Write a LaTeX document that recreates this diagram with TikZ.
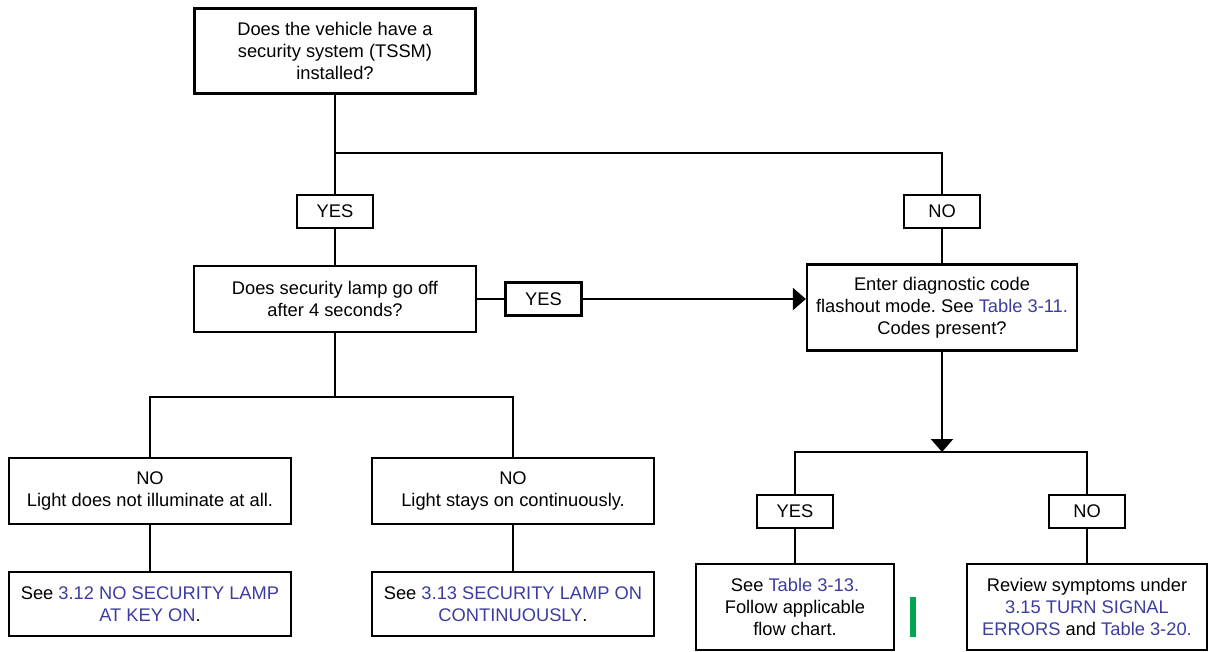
\documentclass[tikz,border=0pt]{standalone}
\usepackage{fontspec}
\setmainfont{Liberation Sans}
\usepackage{xcolor}
\usetikzlibrary{arrows.meta}
\definecolor{linkblue}{RGB}{60,60,160}
\definecolor{markgreen}{RGB}{0,166,81}
\newcommand{\lnk}[1]{\textcolor{linkblue}{#1}}
\frenchspacing

\begin{document}
\begin{tikzpicture}[-, x=1pt, y=-1pt, line width=2.3pt, font=\fontsize{18.3}{22}\selectfont,
  box/.style={draw, align=center, inner sep=0pt},
  tag/.style={box, minimum width=76pt, minimum height=33pt},
  wide box/.style={box, minimum width=282pt},
  arr/.style={-{Triangle[width=22pt,length=13pt]}}]
\useasboundingbox (0,0) rectangle (1217,652);
\node[box, minimum width=281pt, minimum height=85pt] (q1) at (335,51) {Does the vehicle have a\\security system (TSSM)\\installed?};
\node[tag] (yes1) at (335,211.5) {YES};
\node[tag] (no1) at (942,211.5) {NO};
\node[box, minimum width=282pt, minimum height=66pt] (q2) at (335,299) {Does security lamp go off\\after 4 seconds?};
\node[tag] (yes2) at (543.5,299) {YES};
\node[box, minimum width=270pt, minimum height=86pt] (q3) at (942,307.5) {Enter diagnostic code\\flashout mode. See \lnk{Table 3-11.}\\Codes present?};
\node[wide box, minimum height=66pt] (no2) at (150,491) {NO\\Light does not illuminate at all.};
\node[wide box, minimum height=66pt] (no3) at (513,491) {NO\\Light stays on continuously.};
\node[wide box, minimum height=64pt] (see12) at (150,604) {See \lnk{3.12 NO SECURITY LAMP}\\\lnk{AT KEY ON}.};
\node[wide box, minimum height=64pt] (see13) at (513,604) {See \lnk{3.13 SECURITY LAMP ON}\\\lnk{CONTINUOUSLY}.};
\node[tag] (yes3) at (795,511.5) {YES};
\node[tag] (no4) at (1087,511.5) {NO};
\node[box, minimum width=198pt, minimum height=86pt] (tab13) at (795,607) {See \lnk{Table 3-13.}\\Follow applicable\\flow chart.};
\node[box, minimum width=240pt, minimum height=86pt] (review) at (1087,607) {Review symptoms under\\\lnk{3.15 TURN SIGNAL}\\\lnk{ERRORS} and \lnk{Table 3-20.}};
\coordinate (s1) at (335,153);
\coordinate (s2) at (942,452);
\coordinate (s3) at (335,397);
\fill[markgreen] (910,597) rectangle (916,637);
\path
(q1) edge (yes1)
(yes1) edge (q2)
(no1) edge (q3)
(q2) edge (yes2)
(no2) edge (see12)
(no3) edge (see13)
(yes3) edge (tab13)
(no4) edge (review);
\draw (s1) -| (no1);
\draw[arr] (yes2) -- (yes2 -| q3.west);
\draw[arr] (q3) -- (s2);
\draw (yes3) |- (s2) -| (no4);
\draw (q2) -- (s3);
\draw (no2) |- (s3) -| (no3);
\end{tikzpicture}
\end{document}
